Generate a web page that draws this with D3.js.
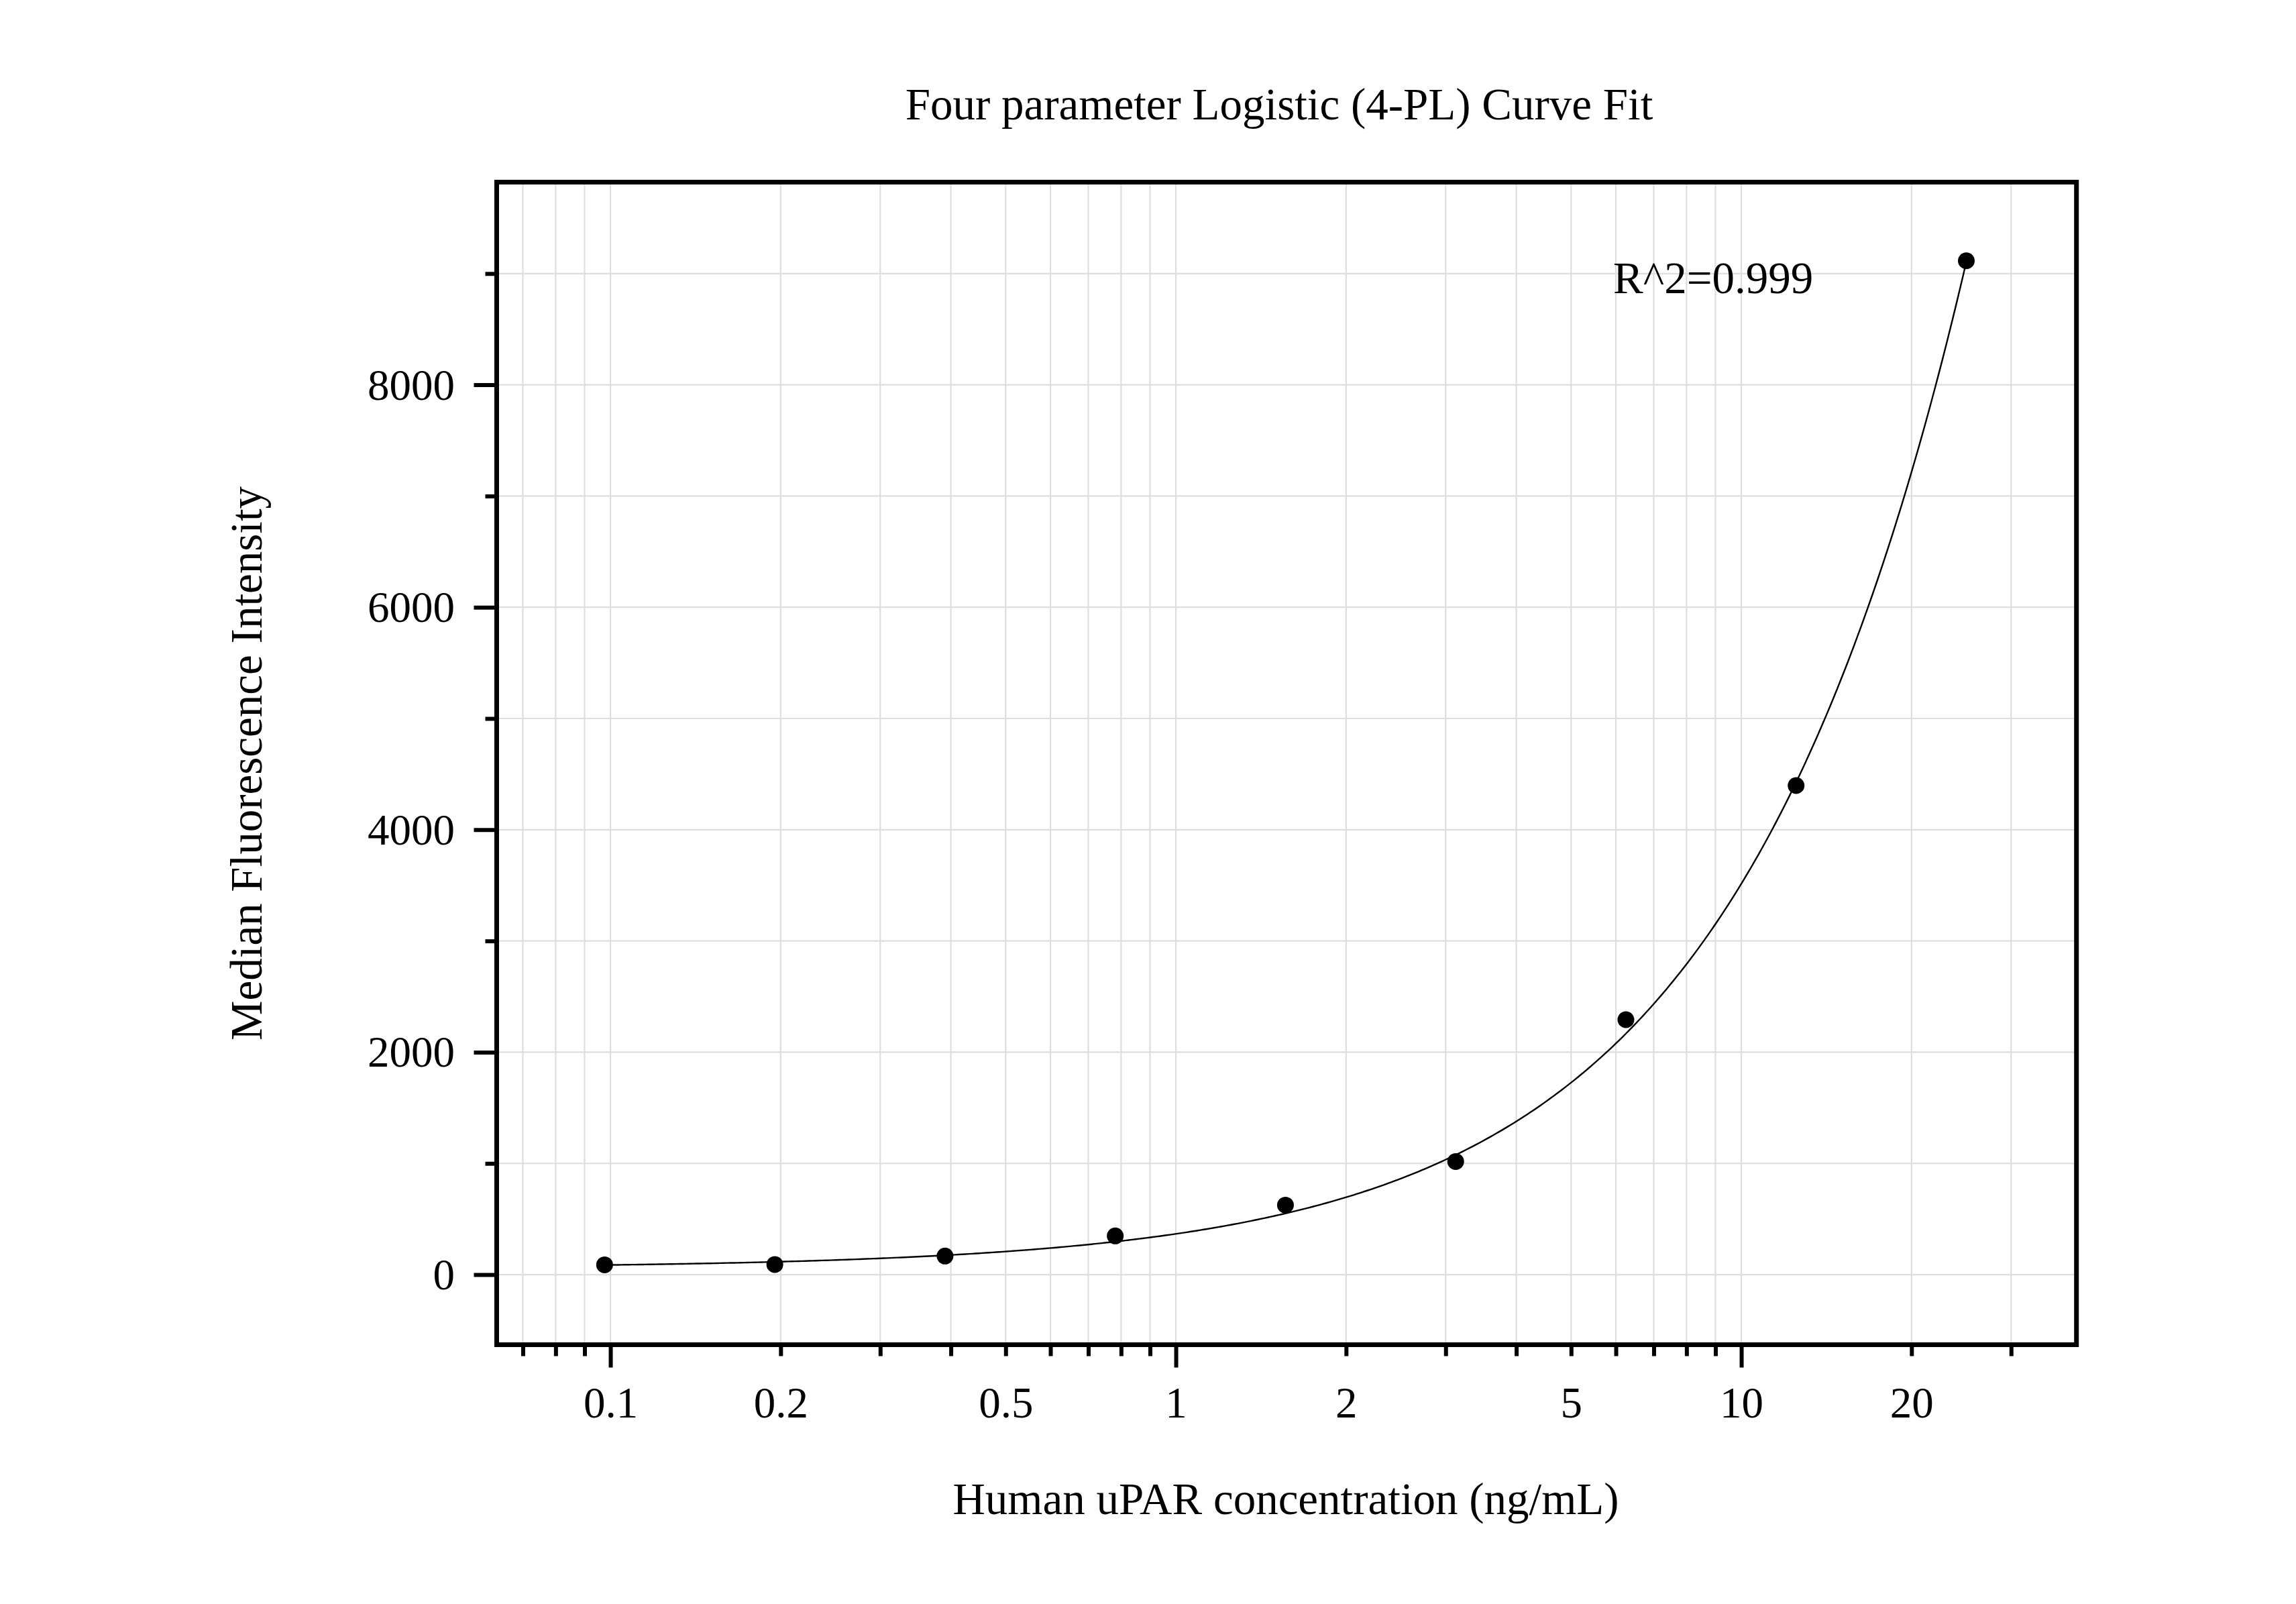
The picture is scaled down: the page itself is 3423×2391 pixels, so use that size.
<!DOCTYPE html>
<html>
<head>
<meta charset="utf-8">
<script src="https://cdn.jsdelivr.net/npm/d3@7"></script>
<style>
  html, body { margin: 0; padding: 0; background: #fff; }
  text { font-family: "Liberation Serif", "Times New Roman", serif; fill: #000; }
</style>
</head>
<body>
<div id="chart"></div>
<script>
// Standard concentrations (ng/mL) and median fluorescence intensity
const concentrations = [0.09765625, 0.1953125, 0.390625, 0.78125, 1.5625, 3.125, 6.25, 12.5, 25];
const mfi = [88, 91, 167, 348, 625, 1017, 2292, 4397, 9115];

// 4-PL fit parameters: y = D + (A - D) / (1 + (x / C)^B)
const fitA = 60;
const fitB = 1.052;
const fitC = 10000;
const fitD = 4.95e6;

// Axis extents and ticks
const xDomain = [0.06293, 39.15];
const yDomain = [-630, 9822];
const xLabelTicks = [0.1, 0.2, 0.5, 1, 2, 5, 10, 20];
const xMajorTicks = [0.1, 1, 10];
const yMajorTicks = [0, 2000, 4000, 6000, 8000];
const yMinorTicks = [1000, 3000, 5000, 7000, 9000];

const titleText = "Four parameter Logistic (4-PL) Curve Fit";
const xTitle = "Human uPAR concentration (ng/mL)";
const yTitle = "Median Fluorescence Intensity";
const r2Text = "R^2=0.999";

// Layout
const W = 3423, H = 2391;
const plot = { left: 740.5, right: 3095.7, top: 271.5, bottom: 2004.5 };
const tickFont = 65;
const titleFont = 67;

const svg = d3.select("#chart").append("svg")
    .attr("width", W)
    .attr("height", H);

svg.append("rect").attr("width", W).attr("height", H).attr("fill", "#fff");

const x = d3.scaleLog().domain(xDomain).range([plot.left, plot.right]);
const y = d3.scaleLinear().domain(yDomain).range([plot.bottom, plot.top]);

const xAllTicks = x.ticks();
const yAllTicks = yMajorTicks.concat(yMinorTicks);

// Grid
const grid = svg.append("g").attr("stroke", "#dedede").attr("stroke-width", 2.2);
grid.selectAll(".vg")
    .data(xAllTicks)
    .join("line")
    .attr("x1", d => x(d)).attr("x2", d => x(d))
    .attr("y1", plot.top).attr("y2", plot.bottom);
grid.selectAll(".hg")
    .data(yAllTicks)
    .join("line")
    .attr("x1", plot.left).attr("x2", plot.right)
    .attr("y1", d => y(d)).attr("y2", d => y(d));

// X axis ticks (minor then major)
const xMinorAxis = svg.append("g")
    .attr("transform", `translate(0,${plot.bottom})`)
    .call(d3.axisBottom(x).tickValues(xAllTicks.filter(d => !xMajorTicks.includes(d))).tickSize(17).tickFormat(""));
const xMajorAxis = svg.append("g")
    .attr("transform", `translate(0,${plot.bottom})`)
    .call(d3.axisBottom(x).tickValues(xMajorTicks).tickSize(34).tickFormat(""));
const xLabelAxis = svg.append("g")
    .attr("transform", `translate(0,${plot.bottom})`)
    .call(d3.axisBottom(x).tickValues(xLabelTicks).tickSize(0).tickFormat(d3.format("")));

// Y axis ticks
const yMinorAxis = svg.append("g")
    .attr("transform", `translate(${plot.left},0)`)
    .call(d3.axisLeft(y).tickValues(yMinorTicks).tickSize(17).tickFormat(""));
const yMajorAxis = svg.append("g")
    .attr("transform", `translate(${plot.left},0)`)
    .call(d3.axisLeft(y).tickValues(yMajorTicks).tickSize(34).tickFormat(d3.format("d")));

[xMinorAxis, xMajorAxis, xLabelAxis, yMinorAxis, yMajorAxis].forEach(g => {
    g.select(".domain").remove();
    g.selectAll(".tick line").attr("stroke", "#000").attr("stroke-width", 6);
});

xLabelAxis.selectAll(".tick line").remove();
xLabelAxis.selectAll("text")
    .attr("y", 2113 - plot.bottom)
    .attr("dy", null)
    .attr("font-size", tickFont)
    .attr("font-family", "Liberation Serif, serif")
    .attr("fill", "#000");

yMajorAxis.selectAll("text")
    .attr("x", 678 - plot.left)
    .attr("dy", "0.33em")
    .attr("font-size", tickFont)
    .attr("font-family", "Liberation Serif, serif")
    .attr("fill", "#000");

// Fitted curve
const fourPL = c => fitD + (fitA - fitD) / (1 + Math.pow(c / fitC, fitB));
const lx0 = Math.log10(concentrations[0]);
const lx1 = Math.log10(concentrations[concentrations.length - 1]);
const curveX = d3.range(0, 401).map(i => Math.pow(10, lx0 + (lx1 - lx0) * i / 400));

svg.append("path")
    .datum(curveX)
    .attr("fill", "none")
    .attr("stroke", "#000")
    .attr("stroke-width", 2.4)
    .attr("d", d3.line().x(d => x(d)).y(d => y(fourPL(d))));

// Data points
svg.append("g")
    .selectAll("circle")
    .data(concentrations)
    .join("circle")
    .attr("cx", d => x(d))
    .attr("cy", (d, i) => y(mfi[i]))
    .attr("r", 12.5)
    .attr("fill", "#000");

// Frame
svg.append("rect")
    .attr("x", plot.left).attr("y", plot.top)
    .attr("width", plot.right - plot.left)
    .attr("height", plot.bottom - plot.top)
    .attr("fill", "none")
    .attr("stroke", "#000")
    .attr("stroke-width", 7);

// Texts
svg.append("text")
    .attr("x", 1907).attr("y", 178)
    .attr("text-anchor", "middle")
    .attr("font-size", titleFont)
    .text(titleText);

svg.append("text")
    .attr("x", 1917).attr("y", 2257)
    .attr("text-anchor", "middle")
    .attr("font-size", titleFont)
    .text(xTitle);

svg.append("text")
    .attr("transform", `translate(390,${(plot.top + plot.bottom) / 2}) rotate(-90)`)
    .attr("text-anchor", "middle")
    .attr("font-size", titleFont)
    .text(yTitle);

svg.append("text")
    .attr("x", 2405).attr("y", 437)
    .attr("font-size", titleFont)
    .text(r2Text);
</script>
</body>
</html>
